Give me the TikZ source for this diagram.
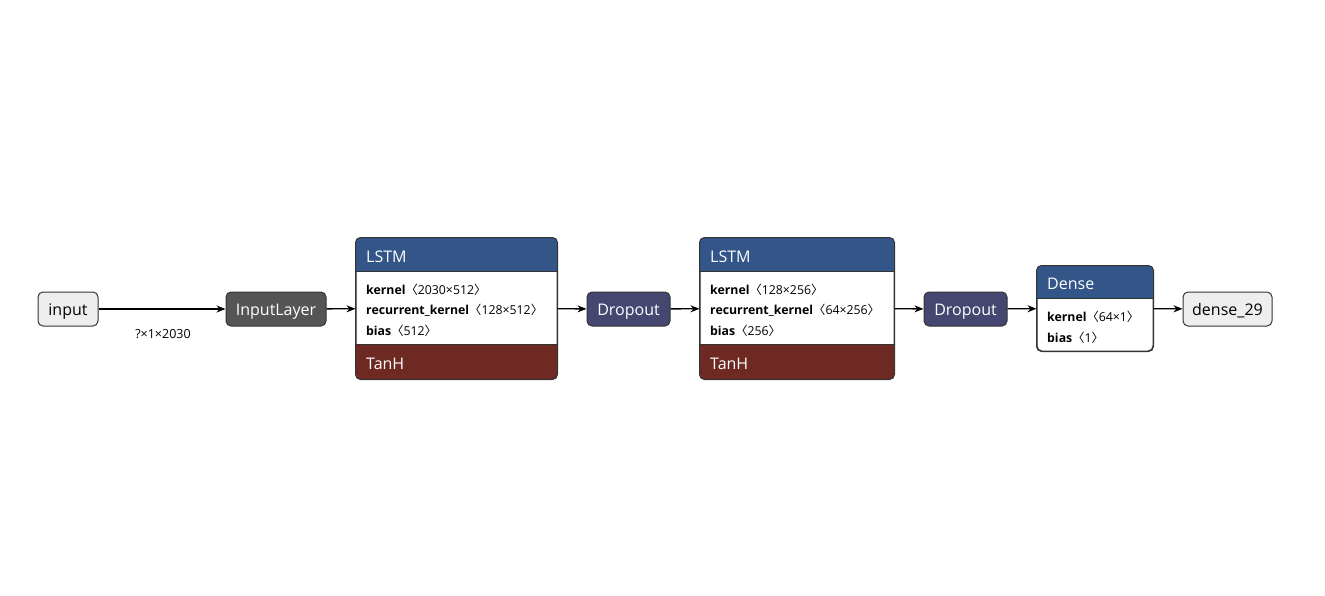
\documentclass[tikz,border=0pt]{standalone}
\usepackage{fontspec}
\setmainfont{Open Sans}
\newfontfamily\cjk{Noto Sans CJK SC}
\usetikzlibrary{arrows.meta}

\definecolor{layerblue}{HTML}{335588}
\definecolor{actred}{HTML}{6E2A22}
\definecolor{dropblue}{HTML}{454770}
\definecolor{datagray}{HTML}{555555}
\definecolor{iofill}{HTML}{EEEEEE}
\definecolor{edgeline}{HTML}{333333}

\tikzset{
  io/.style={draw=edgeline, fill=iofill, rounded corners=5pt, line width=1pt,
    minimum height=34pt, inner sep=0pt, text height=12.5pt, text depth=0pt,
    font=\fontsize{16}{18}\selectfont},
  op/.style={draw=edgeline, rounded corners=5pt, line width=1pt, text=white,
    minimum height=34pt, inner sep=0pt, text height=12.5pt, text depth=0pt,
    font=\fontsize{16}{18}\selectfont},
  block/.style={draw=edgeline, fill=white, rounded corners=5pt, line width=1pt,
    inner sep=0pt},
  title/.style={anchor=base west, inner sep=0pt, text=white, font=\fontsize{16}{18}\selectfont},
  attr/.style={anchor=base west, inner sep=0pt, font=\fontsize{12.3}{14}\selectfont},
  flow/.style={-{Stealth[length=9pt,width=7pt]}, line width=1.3pt},
}

\newcommand{\shp}[1]{{\cjk 〈}#1{\cjk 〉}}

\begin{document}
\begin{tikzpicture}[x=1pt, y=-1pt]
  \useasboundingbox (0,0) rectangle (1325,595);

  \node[io, minimum width=60pt] (input) at (68, 309) {input};
  \node[op, fill=datagray, minimum width=100pt] (inlayer) at (276, 309) {InputLayer};

  % first lstm
  \node[block, minimum width=201pt, minimum height=141pt] (lstma) at (456.5, 308.5) {};
  \begin{scope}
    \clip[rounded corners=5pt] (lstma.north west) rectangle (lstma.south east);
    \fill[layerblue] (lstma.north west) rectangle ([yshift=-34pt]lstma.north east);
    \fill[actred] ([yshift=35pt]lstma.south west) rectangle (lstma.south east);
  \end{scope}
  \draw[edgeline, line width=1pt] ([yshift=-34pt]lstma.north west) -- ([yshift=-34pt]lstma.north east);
  \draw[edgeline, line width=1pt] ([yshift=35pt]lstma.south west) -- ([yshift=35pt]lstma.south east);
  \draw[edgeline, line width=1pt, rounded corners=5pt] (lstma.north west) rectangle (lstma.south east);
  \node[title] (lstmaname) at (366, 262) {LSTM};
  \node[attr] (lstmak) at (366, 294) {\textbf{kernel}\shp{2030×512}};
  \node[attr] (lstmar) at (366, 314) {\textbf{recurrent\_kernel}\shp{128×512}};
  \node[attr] (lstmab) at (366, 335) {\textbf{bias}\shp{512}};
  \node[title] (lstmaact) at (366, 369) {TanH};

  \node[op, fill=dropblue, minimum width=83pt] (dropa) at (628.5, 309) {Dropout};

  % second lstm
  \node[block, minimum width=194pt, minimum height=141pt] (lstmb) at (797, 308.5) {};
  \begin{scope}
    \clip[rounded corners=5pt] (lstmb.north west) rectangle (lstmb.south east);
    \fill[layerblue] (lstmb.north west) rectangle ([yshift=-34pt]lstmb.north east);
    \fill[actred] ([yshift=35pt]lstmb.south west) rectangle (lstmb.south east);
  \end{scope}
  \draw[edgeline, line width=1pt] ([yshift=-34pt]lstmb.north west) -- ([yshift=-34pt]lstmb.north east);
  \draw[edgeline, line width=1pt] ([yshift=35pt]lstmb.south west) -- ([yshift=35pt]lstmb.south east);
  \draw[edgeline, line width=1pt, rounded corners=5pt] (lstmb.north west) rectangle (lstmb.south east);
  \node[title] (lstmbname) at (710, 262) {LSTM};
  \node[attr] (lstmbk) at (710, 294) {\textbf{kernel}\shp{128×256}};
  \node[attr] (lstmbr) at (710, 314) {\textbf{recurrent\_kernel}\shp{64×256}};
  \node[attr] (lstmbb) at (710, 335) {\textbf{bias}\shp{256}};
  \node[title] (lstmbact) at (710, 369) {TanH};

  \node[op, fill=dropblue, minimum width=83pt] (dropb) at (965.5, 309) {Dropout};

  % dense
  \node[block, minimum width=116pt, minimum height=85pt] (dense) at (1095, 308.5) {};
  \begin{scope}
    \clip[rounded corners=5pt] (dense.north west) rectangle (dense.south east);
    \fill[layerblue] (dense.north west) rectangle ([yshift=-33pt]dense.north east);
  \end{scope}
  \draw[edgeline, line width=1pt] ([yshift=-33pt]dense.north west) -- ([yshift=-33pt]dense.north east);
  \draw[edgeline, line width=1pt, rounded corners=5pt] (dense.north west) rectangle (dense.south east);
  \node[title] (densename) at (1047, 289) {Dense};
  \node[attr] (densek) at (1047, 321) {\textbf{kernel}\shp{64×1}};
  \node[attr] (denseb) at (1047, 342) {\textbf{bias}\shp{1}};

  \node[io, minimum width=89pt] (output) at (1227.5, 309) {dense\_29};

  \draw[flow] (input) -- (inlayer);
  \node[anchor=base, inner sep=0pt, font=\fontsize{12.5}{14}\selectfont] (shape) at (163, 338) {?×1×2030};
  \draw[flow] (inlayer) -- (lstma);
  \draw[flow] (lstma) -- (dropa);
  \draw[flow] (dropa) -- (lstmb);
  \draw[flow] (lstmb) -- (dropb);
  \draw[flow] (dropb) -- (dense);
  \draw[flow] (dense) -- (output);
\end{tikzpicture}
\end{document}
